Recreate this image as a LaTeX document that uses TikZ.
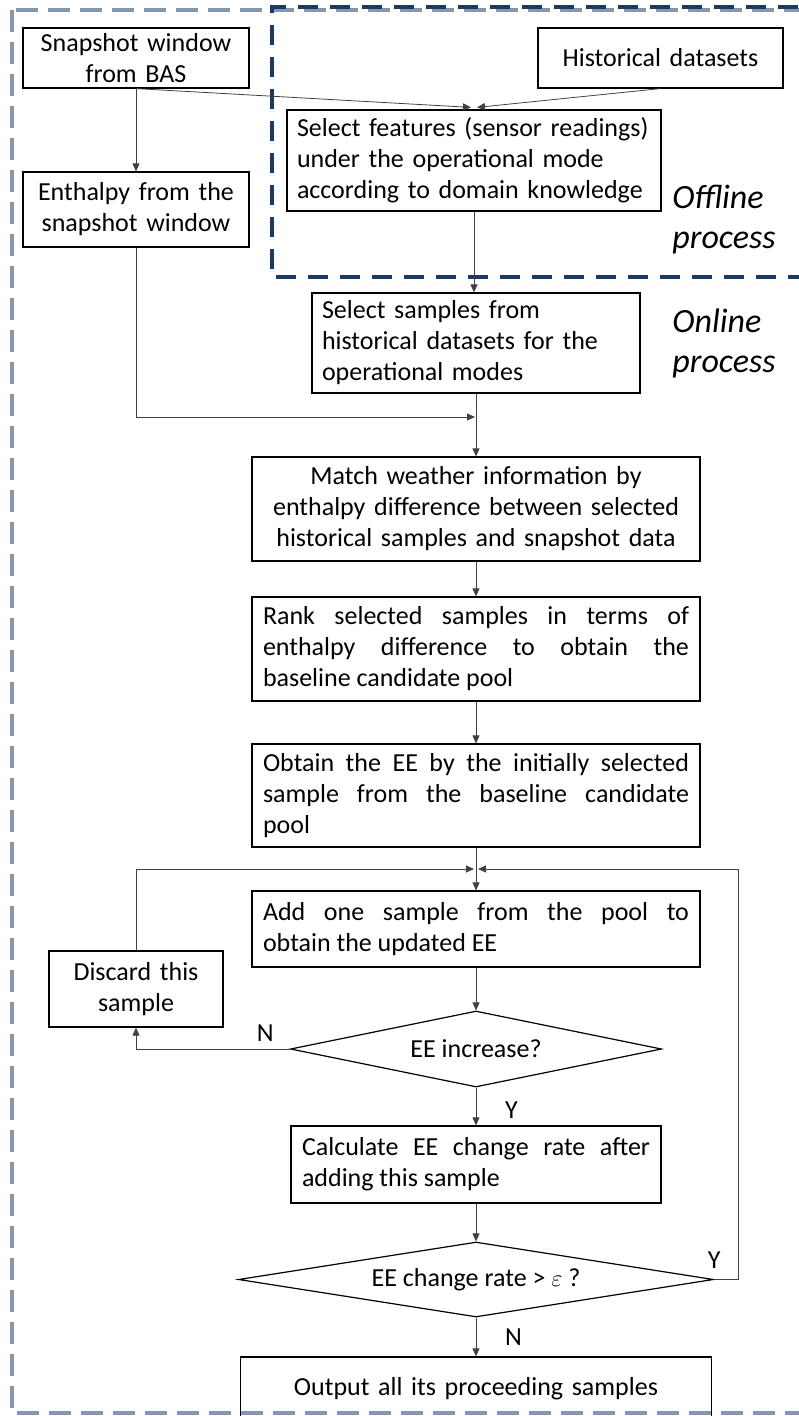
\documentclass[tikz,border=0pt]{standalone}
\usepackage{amssymb,amsmath}
\usepackage{fontspec}
\setmainfont{Carlito}
\usetikzlibrary{positioning,shapes.geometric,arrows.meta}
\definecolor{grayblue}{HTML}{8497B0}
\definecolor{offblue}{HTML}{203864}
\tolerance=10000
\hbadness=10000

\begin{document}
\begin{tikzpicture}[x=0.5pt,y=-0.5pt,
    box/.style={draw,line width=0.6pt,inner xsep=5pt,inner ysep=0pt,font=\fontsize{13}{15.5}\selectfont},
    dec/.style={diamond,draw,line width=0.6pt,inner sep=0pt,shape aspect=5,font=\fontsize{13}{15.5}\selectfont},
    arr/.style={-{Triangle[length=4pt,width=3.5pt]},line width=0.4pt,draw=black!75},
    lab/.style={font=\fontsize{13}{15.5}\selectfont},
    proc/.style={font=\fontsize{17}{20}\selectfont\itshape,align=left,inner sep=0pt,anchor=west},
    outer/.style={draw=grayblue,line width=2pt,dash pattern=on 11pt off 5pt},
    offline/.style={draw=offblue,line width=2pt,dash pattern=on 10pt off 6pt}]
    \useasboundingbox (0,0) rectangle (798,1416);
    % 枠
    \draw[outer] (12,10) rectangle (830,1413);
    \draw[offline] (830,7) -- (272,7) -- (272,277) -- (830,277);
    \node[proc] (offtxt) at (672,220) {Offline\\process};
    \node[proc] (ontxt) at (672,343) {Online\\process};
    % ボックス
    \node[box,text width=103pt,minimum height=30pt,align=center] (snap) at (136,58) {Snapshot window\\from BAS};
    \node[box,text width=112.5pt,minimum height=30pt,align=center] (hist) at (660.5,58) {Historical datasets};
    \node[box,text width=177pt,minimum height=50.5pt,align=left] (feat) at (474,160.5) {Select features (sensor readings)\\under the operational mode\\according to domain knowledge};
    \node[box,text width=103pt,minimum height=37.5pt,align=center] (enth) at (136,209.5) {Enthalpy from the\\snapshot window};
    \node[box,text width=154pt,minimum height=50pt,align=left] (samp) at (476,343) {Select samples from\\historical datasets for the\\operational modes};
    \node[box,text width=214pt,minimum height=52pt,align=center] (match) at (476,509) {Match weather information by\\enthalpy difference between selected\\historical samples and snapshot data};
    \node[box,text width=213pt,minimum height=52pt,inner xsep=5.5pt,align=justify] (rank) at (476,649) {Rank selected samples in terms of\linebreak enthalpy difference to obtain the\linebreak baseline candidate pool};
    \node[box,text width=213pt,minimum height=51.5pt,inner xsep=5.5pt,align=justify] (obtain) at (476,795.5) {Obtain the EE by the initially selected\linebreak sample from the baseline candidate\linebreak pool};
    \coordinate (join) at (476,869);
    \coordinate (loopR) at (738,869);
    \coordinate (mergeA) at (476,417);
    \node[box,text width=213pt,minimum height=38pt,inner xsep=5.5pt,align=justify] (add) at (476,929) {Add one sample from the pool to\linebreak obtain the updated EE};
    \node[box,text width=77pt,minimum height=38pt,align=center] (discard) at (136,989) {Discard this\\sample};
    \node[dec,minimum width=185.5pt,minimum height=38pt] (dec1) at (476,1049) {EE increase?};
    \node[box,text width=174pt,minimum height=38.5pt,inner xsep=5.5pt,align=justify] (calc) at (476,1164.5) {Calculate EE change rate after\linebreak adding this sample};
    \node[dec,minimum width=237.5pt,minimum height=37.5pt] (dec2) at (476,1279.5) {EE change rate > $\varepsilon$ ?};
    \node[box,text width=225.5pt,minimum height=32pt,align=center] (out) at (476,1389) {Output all its proceeding samples};
    % 矢印
    \draw[arr] (snap.south) -- ([xshift=-1.5pt,yshift=1pt]feat.north);
    \draw[arr] (hist.south) -- ([xshift=1.5pt,yshift=1pt]feat.north);
    \draw[arr] (snap) -- (enth);
    \draw[arr] (feat.south) -- (feat.south |- samp.north);
    \draw[arr] (enth.south) |- ([xshift=-0.5pt]mergeA);
    \draw[arr] (samp) -- (match);
    \draw[arr] (match) -- (rank);
    \draw[arr] (rank) -- (obtain);
    \draw[arr] (obtain) -- (add);
    \draw[arr] (discard.north) |- ([xshift=-1pt]join);
    \draw[arr] (dec2.east) node[lab,above=2pt] (y2) {Y} -| (loopR) -- ([xshift=1pt]join);
    \draw[arr] (add) -- (dec1);
    \draw[arr] (dec1.west) -| node[lab,pos=0.08,above] (n1) {N} (discard.south);
    \draw[arr] (dec1) -- node[lab,pos=0.6,right=11pt] (y1) {Y} (calc);
    \draw[arr] (calc) -- (dec2);
    \draw[arr] (dec2) -- node[lab,pos=0.5,right=11pt] (n2) {N} (out);
\end{tikzpicture}
\end{document}
